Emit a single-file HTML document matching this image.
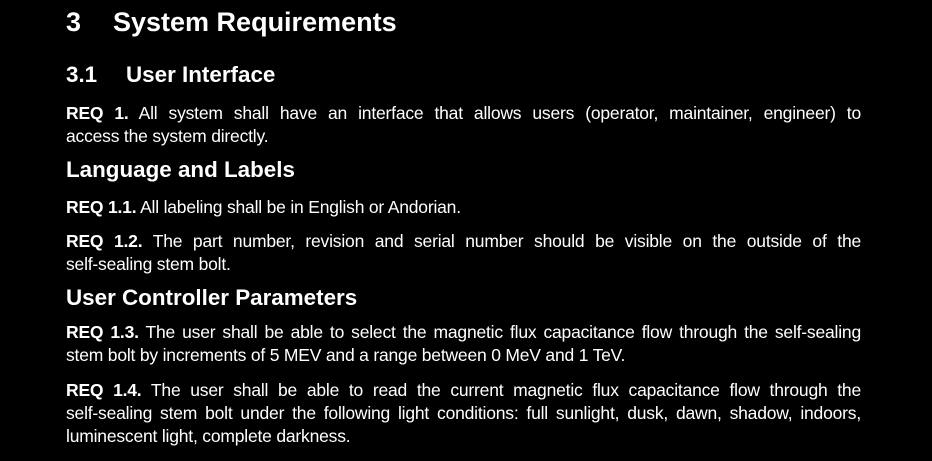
<!DOCTYPE html>
<html><head><meta charset="utf-8"><style>
html,body{margin:0;padding:0;background:#000;}
body{width:932px;height:461px;position:relative;overflow:hidden;color:#fff;font-family:"Liberation Sans",sans-serif;}
.a{position:absolute;left:66px;white-space:nowrap;}
.l{font-size:17.5px;line-height:20px;width:795px;letter-spacing:-0.2px;}
.j{text-align:justify;text-align-last:justify;}
.h1{font-size:27px;font-weight:bold;line-height:30px;}
.h2{font-size:22.4px;font-weight:bold;line-height:24px;}
b{font-weight:bold;}
</style></head><body>
<div class="a h1" style="top:7px"><span style="display:inline-block;width:47px">3</span>System Requirements</div>
<div class="a h2" style="top:63px"><span style="display:inline-block;width:60px">3.1</span>User Interface</div>
<div class="a l j" style="top:103px"><b>REQ 1.</b> All system shall have an interface that allows users (operator, maintainer, engineer) to</div>
<div class="a l" style="top:126px">access the system directly.</div>
<div class="a h2" style="top:158px">Language and Labels</div>
<div class="a l" style="top:197px"><b>REQ 1.1.</b> All labeling shall be in English or Andorian.</div>
<div class="a l j" style="top:231px"><b>REQ 1.2.</b> The part number, revision and serial number should be visible on the outside of the</div>
<div class="a l" style="top:254px">self-sealing stem bolt.</div>
<div class="a h2" style="top:286px">User Controller Parameters</div>
<div class="a l j" style="top:322px"><b>REQ 1.3.</b> The user shall be able to select the magnetic flux capacitance flow through the self-sealing</div>
<div class="a l" style="top:345px">stem bolt by increments of 5 MEV and a range between 0 MeV and 1 TeV.</div>
<div class="a l j" style="top:380px"><b>REQ 1.4.</b> The user shall be able to read the current magnetic flux capacitance flow through the</div>
<div class="a l j" style="top:403px">self-sealing stem bolt under the following light conditions: full sunlight, dusk, dawn, shadow, indoors,</div>
<div class="a l" style="top:426px">luminescent light, complete darkness.</div>
</body></html>
